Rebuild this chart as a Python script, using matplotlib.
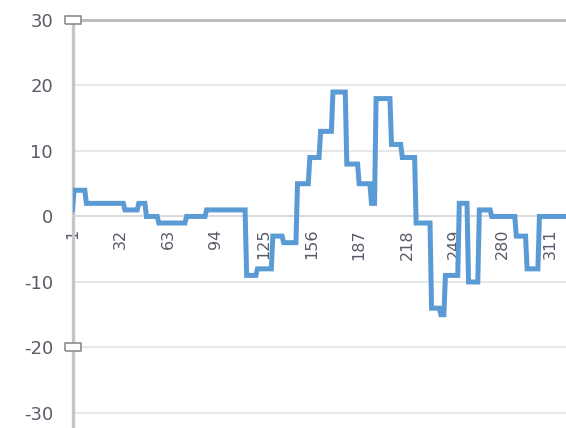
import numpy as np
import matplotlib
matplotlib.use("Agg")
import matplotlib.pyplot as plt

plt.rcParams["axes.unicode_minus"] = False

# run-length form of the series: value holds from each start until the next
starts = [1, 2, 10, 35, 44, 49, 57, 75, 88, 114, 121, 131, 138, 147, 155, 162,
          170, 179, 187, 195, 198, 208, 215, 224, 234, 240, 243, 252, 258, 265,
          273, 289, 296, 304]
levels = [1, 4, 2, 1, 2, 0, -1, 0, 1, -9, -8, -3, -4, 5, 9, 13,
          19, 8, 5, 2, 18, 11, 9, -1, -14, -15, -9, 2, -10, 1,
          0, -3, -8, 0]
last = 330

tick_cats = list(range(1, 312, 31))
y_ticks = [-30, -20, -10, 0, 10, 20, 30]

runs = np.diff(starts + [last + 1])
y = np.repeat(levels, runs)
x = np.arange(1, len(y) + 1)

fig = plt.figure(figsize=(5.66, 4.28), dpi=100)
ax = fig.add_axes([72.5 / 566, 0, 507 / 566, 408 / 428])

ax.plot(x, y, color="#5B9BD5", lw=3.6, solid_joinstyle="miter", zorder=3)

ax.set_xlim(1, last)
ax.set_ylim(-32.3, 30)
ax.set_yticks(y_ticks)
ax.set_xticks(tick_cats)
ax.set_xticklabels([str(c) for c in tick_cats])

ax.grid(axis="y", color="#E0E0E0", lw=1.1)
ax.grid(axis="x", visible=False)
ax.axhline(30, color="#BDBDBD", lw=2.2, zorder=2, clip_on=False)

for s in ["top", "right"]:
    ax.spines[s].set_visible(False)
ax.spines["left"].set_color("#C6C6C6")
ax.spines["left"].set_linewidth(2.4)
ax.spines["bottom"].set_position(("data", 0))
ax.spines["bottom"].set_color("#D6D6D6")
ax.spines["bottom"].set_linewidth(1.1)

ax.tick_params(axis="y", length=0, pad=14, labelsize=13, labelcolor="#5a5a68")
ax.tick_params(axis="x", length=0, pad=9, labelsize=11.5, labelcolor="#5a5a68",
               labelrotation=90)
for lab in ax.get_xticklabels():
    lab.set_verticalalignment("top")
    lab.set_horizontalalignment("center")

# selection handles on the value axis
handle = [(-1.8, -1), (1.8, -1), (1.8, 1), (-1.8, 1), (-1.8, -1)]
ax.plot([1, 1], [30, -20], ls="none", marker=handle, markersize=11,
        markerfacecolor="white", markeredgecolor="#8c8c8c", markeredgewidth=1.2,
        clip_on=False, zorder=5)

fig.savefig("out.png", dpi=100)
